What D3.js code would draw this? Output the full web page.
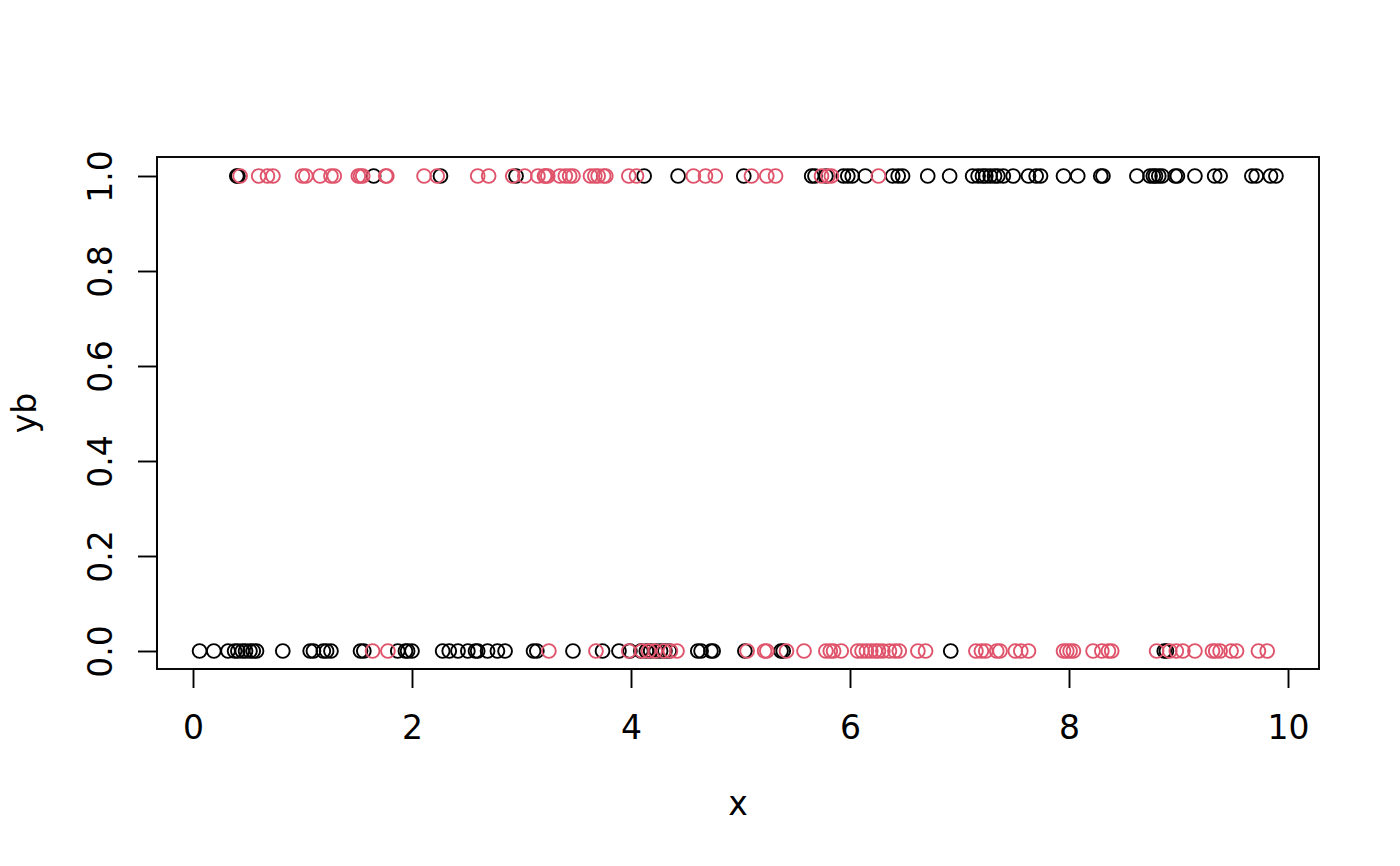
<!DOCTYPE html>
<html><head><meta charset="utf-8">
<script src="https://cdn.jsdelivr.net/npm/d3@7"></script>
<style>body{margin:0;background:#fff}svg{display:block}text{font-family:"DejaVu Sans",sans-serif}</style>
</head><body>
<script>
const xTicks = [0, 2, 4, 6, 8, 10];
const yTicks = [0.0, 0.2, 0.4, 0.6, 0.8, 1.0];
const yTickLabels = ["0.0", "0.2", "0.4", "0.6", "0.8", "1.0"];
const xLabel = "x", yLabel = "yb";

const topBlack = [0.40,0.41,1.65,2.26,2.95,4.12,4.43,5.03,5.65,5.68,5.78,5.94,5.98,6.02,6.14,6.39,6.44,6.48,6.71,6.91,7.12,7.17,7.21,7.24,7.28,7.32,7.35,7.40,7.49,7.63,7.70,7.74,7.95,8.08,8.29,8.31,8.62,8.74,8.77,8.79,8.82,8.85,8.97,8.99,9.15,9.33,9.38,9.67,9.71,9.84,9.89];
const topRed = [0.43,0.60,0.68,0.73,1.00,1.03,1.16,1.26,1.29,1.51,1.53,1.55,1.76,1.77,2.11,2.23,2.60,2.70,2.92,3.03,3.15,3.21,3.22,3.24,3.35,3.40,3.44,3.47,3.63,3.67,3.70,3.75,3.77,3.98,4.05,4.57,4.68,4.77,5.10,5.24,5.32,5.74,5.80,5.83,6.26];
const bottomBlack = [0.06,0.19,0.32,0.38,0.41,0.45,0.48,0.52,0.55,0.58,0.82,1.07,1.10,1.19,1.22,1.26,1.53,1.56,1.87,1.94,1.96,2.00,2.28,2.34,2.42,2.51,2.58,2.60,2.69,2.78,2.85,3.11,3.14,3.47,3.74,3.89,3.99,4.09,4.14,4.18,4.23,4.27,4.31,4.35,4.61,4.64,4.73,4.75,5.04,5.37,5.39,6.92,8.87,8.89];
const bottomRed = [1.64,1.78,3.25,3.68,3.98,4.10,4.16,4.22,4.30,4.36,4.42,5.06,5.22,5.24,5.42,5.58,5.78,5.82,5.85,5.92,6.07,6.11,6.15,6.19,6.23,6.26,6.30,6.36,6.41,6.45,6.62,6.69,7.15,7.20,7.24,7.34,7.37,7.51,7.56,7.63,7.95,7.98,8.01,8.04,8.22,8.30,8.36,8.39,8.80,8.92,8.98,9.04,9.15,9.31,9.34,9.38,9.48,9.53,9.73,9.81];

const W = 1400, H = 866;
const L = 157, R = 1319, T = 157, B = 669;
const FS = 33;
const svg = d3.select("body").append("svg").attr("width", W).attr("height", H);

const x = d3.scaleLinear().domain([-0.3288, 10.2831]).range([L, R]);
const y = d3.scaleLinear().domain([-0.0379, 1.04]).range([B, T]);

const pts = [];
topBlack.forEach(v => pts.push({x: v, y: 1, c: "#000000"}));
topRed.forEach(v => pts.push({x: v, y: 1, c: "#DF536B"}));
bottomBlack.forEach(v => pts.push({x: v, y: 0, c: "#000000"}));
bottomRed.forEach(v => pts.push({x: v, y: 0, c: "#DF536B"}));

svg.append("g").selectAll("circle").data(pts).join("circle")
  .attr("cx", d => x(d.x)).attr("cy", d => y(d.y)).attr("r", 6.9)
  .attr("fill", "none").attr("stroke", d => d.c).attr("stroke-width", 1.9);

svg.append("rect").attr("x", L).attr("y", T).attr("width", R - L).attr("height", B - T)
  .attr("fill", "none").attr("stroke", "#000").attr("stroke-width", 1.9);

const xAxis = d3.axisBottom(x).tickValues(xTicks).tickSize(19).tickSizeOuter(0);
const gx = svg.append("g").attr("transform", `translate(0,${B})`).call(xAxis);
gx.select(".domain").attr("d", `M${x(0)},0H${x(10)}`).attr("stroke-width", 1.9);
gx.selectAll(".tick line").attr("stroke-width", 1.9);
gx.selectAll(".tick text").attr("font-size", FS).attr("font-family", "DejaVu Sans, sans-serif")
  .attr("y", 70).attr("dy", null);

const yAxis = d3.axisLeft(y).tickValues(yTicks).tickFormat((d, i) => yTickLabels[i]).tickSize(19).tickSizeOuter(0);
const gy = svg.append("g").attr("transform", `translate(${L},0)`).call(yAxis);
gy.select(".domain").attr("d", `M0,${y(0)}V${y(1)}`).attr("stroke-width", 1.9);
gy.selectAll(".tick line").attr("stroke-width", 1.9);
gy.selectAll(".tick text").attr("font-size", FS).attr("font-family", "DejaVu Sans, sans-serif")
  .attr("x", null).attr("y", 0).attr("dy", null)
  .attr("text-anchor", "middle")
  .attr("transform", "translate(-45,0) rotate(-90)");

svg.append("text").attr("x", (L + R) / 2).attr("y", 815).attr("text-anchor", "middle")
  .attr("font-size", FS).text(xLabel);
svg.append("text").attr("transform", `translate(36,${(T + B) / 2}) rotate(-90)`).attr("text-anchor", "middle")
  .attr("font-size", FS).text(yLabel);
</script>
</body></html>
